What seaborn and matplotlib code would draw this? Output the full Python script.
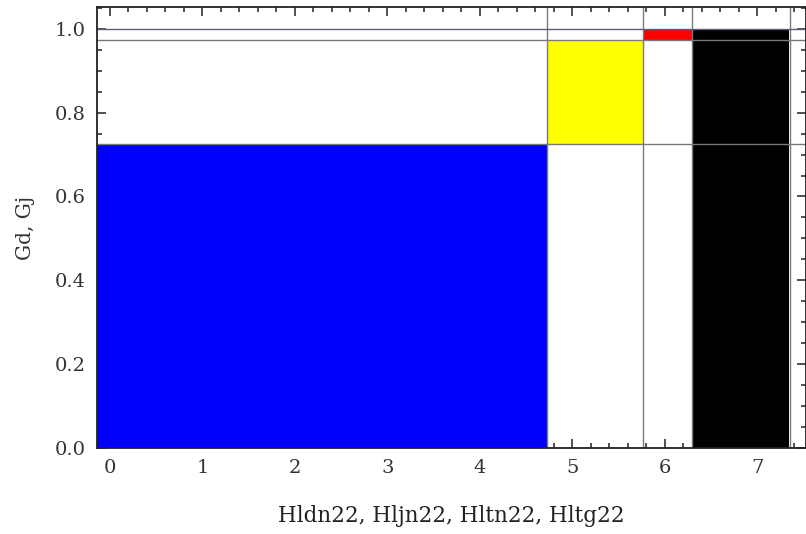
import matplotlib
matplotlib.use("Agg")
import matplotlib.pyplot as plt
from matplotlib.ticker import MultipleLocator, FormatStrFormatter
import seaborn as sns

# ---- data ----
x_left = [-0.14, 4.73, 5.76, 6.29]
x_right = [4.73, 5.76, 6.29, 7.34]
y_bottom = [0.0, 0.7255, 0.974, 0.0]
y_top = [0.7255, 0.974, 1.0, 1.0]
colors = ["#0000ff", "#ffff00", "#ff0000", "#000000"]
grid_x = [4.73, 5.76, 6.29, 7.355]
grid_y = [0.7255, 0.974, 1.0]
x_ticks = [0, 1, 2, 3, 4, 5, 6, 7]
y_ticks = [0.0, 0.2, 0.4, 0.6, 0.8, 1.0]
xlabel = "Hldn22, Hljn22, Hltn22, Hltg22"
ylabel = "Gd, Gj"

sns.set_style("white")
plt.rcParams["font.family"] = ["DejaVu Serif"]

fig = plt.figure(figsize=(8.06, 5.34), dpi=100)
ax = fig.add_axes([97 / 806, 86 / 534, (805.5 - 97) / 806, (448 - 7) / 534])

widths = [r - l for l, r in zip(x_left, x_right)]
heights = [t - b for t, b in zip(y_top, y_bottom)]
ax.bar(x_left, heights, width=widths, bottom=y_bottom, align="edge",
       color=colors, edgecolor="none", linewidth=0, zorder=1)

for gx in grid_x:
    ax.axvline(gx, color="#7a7a7a", linewidth=1.0, zorder=2)
for gy in grid_y:
    ax.axhline(gy, color="#5c5c7a" if gy == 1.0 else "#7a7a7a", linewidth=1.0, zorder=2)

ax.set_xlim(-0.14, 7.52)
ax.set_ylim(0, 1.052)

ax.set_xticks(x_ticks)
ax.set_yticks(y_ticks)
ax.xaxis.set_minor_locator(MultipleLocator(0.2))
ax.yaxis.set_minor_locator(MultipleLocator(0.05))
ax.yaxis.set_major_formatter(FormatStrFormatter("%.1f"))

ax.tick_params(which="both", direction="in", top=True, right=True,
               bottom=True, left=True, color="#222222", width=1.1)
ax.tick_params(which="major", length=6.5, labelsize=14, labelcolor="#333333")
ax.tick_params(which="minor", length=3.5)
ax.tick_params(axis="x", which="major", pad=8)
ax.tick_params(axis="y", which="major", pad=8)

for s in ax.spines.values():
    s.set_color("#222222")
    s.set_linewidth(1.3)
    s.set_zorder(3)

ax.set_xlabel(xlabel, fontsize=15.5, color="#222222", labelpad=20)
ax.set_ylabel(ylabel, fontsize=14.5, color="#333333", labelpad=14)

fig.savefig("out.png", dpi=100, facecolor="white")
